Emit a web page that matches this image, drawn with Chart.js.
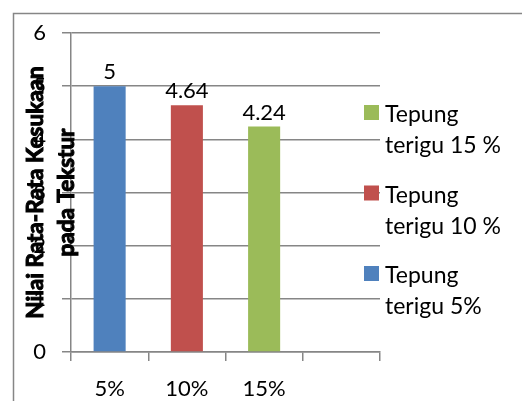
<!DOCTYPE html>
<html lang="id">
<head>
<meta charset="UTF-8">
<title>Nilai Rata-Rata Kesukaan pada Tekstur</title>
<script src="https://cdn.jsdelivr.net/npm/chart.js"></script>
<style>
  body { margin: 0; background: #fff; }
  canvas { display: block; }
</style>
</head>
<body>
<canvas id="teksturChart" width="522" height="401"></canvas>
<script>
// kategori sumbu X (slot terakhir sengaja kosong)
const kategori = ['5%', '10%', '15%', ''];
// satu seri per perlakuan tepung terigu
const namaSeri = [['Tepung', 'terigu 5%'], ['Tepung', 'terigu 10 %'], ['Tepung', 'terigu 15 %']];
const nilaiRataRata = [5, 4.64, 4.24];
const warnaSeri = ['#4f81bd', '#c0504d', '#9bbb59'];
const skalaY = { min: 0, max: 6, langkah: 1 };
const judulY = ['Nilai Rata-Rata Kesukaan', 'pada Tekstur'];

const huruf = 'Lato, Calibri, sans-serif';
const abu = '#868686';

// tiap seri hanya punya nilai di kategorinya sendiri
const datasets = nilaiRataRata.map((v, i) => ({
  label: namaSeri[i].join(' '),
  data: kategori.map((_, j) => (j === i ? v : null)),
  backgroundColor: warnaSeri[i],
  grouped: false,
  categoryPercentage: 1,
  barPercentage: 0.415
}));

// bingkai luar
const bingkai = {
  id: 'bingkai',
  beforeDraw(chart) {
    const ctx = chart.ctx;
    ctx.save();
    ctx.strokeStyle = abu;
    ctx.lineWidth = 1.5;
    ctx.strokeRect(13.5, 13.5, 600, 500);
    ctx.restore();
  }
};

// judul sumbu Y dua baris, tebal, menumpuk di atas label tick
const judulSumbuY = {
  id: 'judulSumbuY',
  afterDraw(chart) {
    const ctx = chart.ctx;
    const area = chart.chartArea;
    const yc = (area.top + area.bottom) / 2;
    ctx.save();
    ctx.font = 'bold 22.5px ' + huruf;
    ctx.fillStyle = '#000';
    ctx.strokeStyle = '#000';
    ctx.lineWidth = 1;
    ctx.textAlign = 'center';
    ctx.textBaseline = 'middle';
    judulY.forEach((baris, b) => {
      ctx.save();
      ctx.translate(36 + b * 31, yc);
      ctx.rotate(-Math.PI / 2);
      ctx.fillText(baris, 0, 0);
      ctx.strokeText(baris, 0, 0);
      ctx.restore();
    });
    ctx.restore();
  }
};

// angka di atas batang
const labelNilai = {
  id: 'labelNilai',
  afterDatasetsDraw(chart) {
    const ctx = chart.ctx;
    ctx.save();
    ctx.font = '22px ' + huruf;
    ctx.fillStyle = '#000';
    ctx.textAlign = 'center';
    ctx.textBaseline = 'alphabetic';
    chart.data.datasets.forEach((ds, i) => {
      chart.getDatasetMeta(i).data.forEach((bar, j) => {
        if (ds.data[j] == null) return;
        ctx.fillText(String(ds.data[j]), bar.x, bar.y - 7);
      });
    });
    ctx.restore();
  }
};

// legenda di kanan, urutan terbalik, teks dua baris
const legendaKanan = {
  id: 'legendaKanan',
  afterDraw(chart) {
    const ctx = chart.ctx;
    const x = chart.chartArea.right - 16;
    ctx.save();
    ctx.font = '23px ' + huruf;
    ctx.textBaseline = 'alphabetic';
    ctx.textAlign = 'left';
    const urutan = chart.data.datasets.map((_, i) => i).reverse();
    urutan.forEach((i, k) => {
      const top = 105 + k * 80.5;
      ctx.fillStyle = chart.data.datasets[i].backgroundColor;
      ctx.fillRect(x, top, 15, 15);
      ctx.fillStyle = '#000';
      namaSeri[i].forEach((baris, b) => {
        ctx.fillText(baris, x + 21, top + 17 + b * 31);
      });
    });
    ctx.restore();
  }
};

new Chart(document.getElementById('teksturChart'), {
  type: 'bar',
  data: { labels: kategori, datasets },
  plugins: [bingkai, judulSumbuY, labelNilai, legendaKanan],
  options: {
    responsive: false,
    animation: false,
    layout: { padding: { top: 33, right: 142, left: 0, bottom: 0 } },
    plugins: {
      legend: { display: false },
      tooltip: { enabled: false }
    },
    scales: {
      x: {
        grid: { drawOnChartArea: false, color: abu, lineWidth: 1.5, tickLength: 9, offset: true },
        border: { color: abu, width: 1.5 },
        ticks: { color: '#000', font: { family: huruf, size: 22 }, padding: 15 },
        afterFit(s) { s.height = 49; }
      },
      y: {
        min: skalaY.min,
        max: skalaY.max,
        grid: { color: abu, lineWidth: 1.5, tickLength: 9 },
        border: { color: abu, width: 1.5 },
        ticks: { stepSize: skalaY.langkah, color: '#000', font: { family: huruf, size: 22 }, padding: 16 },
        afterFit(s) { s.width = 71; }
      }
    }
  }
});
</script>
</body>
</html>
